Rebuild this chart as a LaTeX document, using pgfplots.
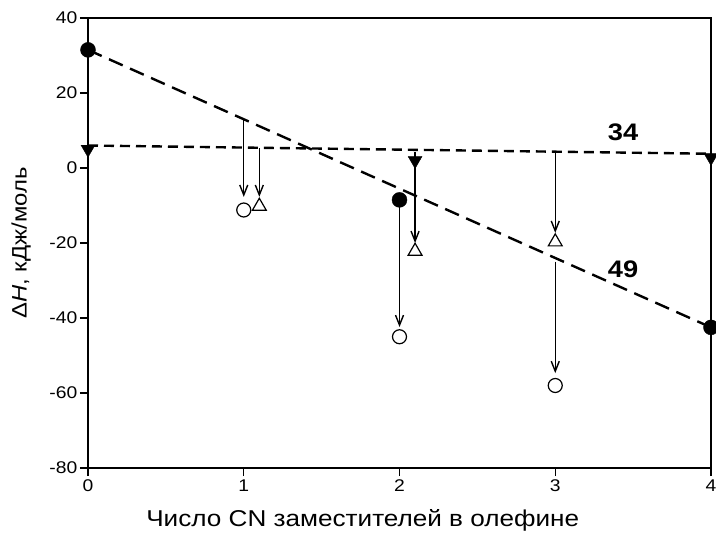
\documentclass[border=0pt]{standalone}
\usepackage{fontspec}
\setmainfont[FakeStretch=1.14]{Liberation Sans}
\usepackage{pgfplots}
\pgfplotsset{compat=1.18}
\usetikzlibrary{arrows.meta}

\begin{document}
\begin{tikzpicture}
\begin{axis}[
  scale only axis,
  width=623bp, height=450bp,
  xmin=0, xmax=4, ymin=-80, ymax=40,
  xtick={0,1,2,3,4}, ytick={-80,-60,-40,-20,0,20,40},
  tick align=outside, tick pos=left,
  major tick length=8bp,
  axis line style={line width=1.3bp},
  tick style={line width=1.3bp, black},
  ticklabel style={font=\fontsize{17}{19}\selectfont},
  yticklabel style={inner sep=2.5bp},
  /pgf/number format/assume math mode=true,
  xlabel={Число CN заместителей в олефине},
  ylabel={Δ\textit{H}, кДж/моль},
  xlabel style={font=\fontsize{23}{26}\selectfont, at={(axis description cs:0.441,-0.1156)}, anchor=center},
  ylabel style={font=\fontsize{21}{24}\selectfont, at={(axis description cs:-0.1075,0.5)}, anchor=center},
  clip=false,
]
% regression lines
\addplot[black, line width=2.4bp, dash pattern=on 15bp off 8bp] coordinates {(0,31.5) (4,-42.5)};
\addplot[black, line width=2.4bp, dash pattern=on 10bp off 6bp] coordinates {(0,6) (4,3.8)};
% arrows
\addplot[black, line width=1.4bp, -{Straight Barb[length=10bp,width=8bp]}] coordinates {(1,12.8) (1,-7.7)};
\addplot[black, line width=1.4bp, -{Straight Barb[length=10bp,width=8bp]}] coordinates {(1.1,5.3) (1.1,-7.7)};
\addplot[black, line width=1.4bp, -{Straight Barb[length=10bp,width=8bp]}] coordinates {(2,-8.5) (2,-42.4)};
\addplot[black, line width=1.4bp, -{Straight Barb[length=10bp,width=8bp]}] coordinates {(2.1,4.3) (2.1,-20)};
\addplot[black, line width=1.4bp, -{Straight Barb[length=10bp,width=8bp]}] coordinates {(3,4.2) (3,-17.3)};
\addplot[black, line width=1.4bp, -{Straight Barb[length=10bp,width=8bp]}] coordinates {(3,-25) (3,-54.7)};
% filled circles
\addplot[only marks, mark=*, mark size=7.5bp, black] coordinates {(0,31.5) (2,-8.5) (4,-42.5)};
% filled down triangles
\addplot[only marks, mark=triangle*, mark size=8bp, black, mark options={rotate=180}] coordinates {(0,5) (2.1,2) (4,2.8)};
% open circles
\addplot[only marks, mark=o, mark size=7bp, black, mark options={fill=white, line width=1.2bp}] coordinates {(1,-11.2) (2,-45) (3,-58)};
% open triangles
\addplot[only marks, mark=triangle, mark size=8bp, black, mark options={fill=white, line width=1.2bp}] coordinates {(1.1,-10.2) (2.1,-22.2) (3,-19.7)};
\node[font=\bfseries\fontsize{24}{26}\selectfont] at (axis cs:3.435,9.5) {34};
\node[font=\bfseries\fontsize{24}{26}\selectfont] at (axis cs:3.435,-27) {49};
\end{axis}
\pgfresetboundingbox
\path[use as bounding box] ([shift={(-88bp,-66bp)}]current axis.south west) rectangle ([shift={(5bp,18bp)}]current axis.north east);
\end{tikzpicture}
\end{document}
